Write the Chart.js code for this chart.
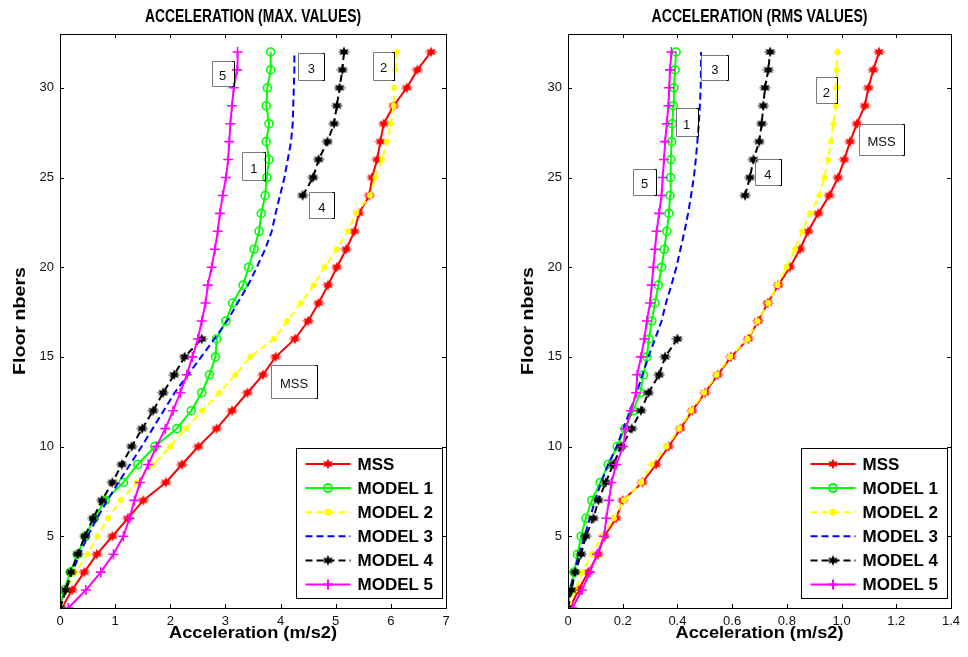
<!DOCTYPE html>
<html>
<head>
<meta charset="utf-8">
<title>Acceleration profiles</title>
<script src="https://cdn.jsdelivr.net/npm/chart.js@4/dist/chart.umd.min.js"></script>
<style>
  html, body { margin: 0; padding: 0; background: #fff; }
  #wrap { position: relative; width: 968px; height: 657px; overflow: hidden; }
  .pane { position: absolute; top: 0; height: 657px; }
  #paneMax { left: 0; width: 484px; }
  #paneRms { left: 508px; width: 460px; }
</style>
</head>
<body>
<div id="wrap">
  <div class="pane" id="paneMax"><canvas id="chartMax"></canvas></div>
  <div class="pane" id="paneRms"><canvas id="chartRms"></canvas></div>
</div>
<script>
// ---- data -------------------------------------------------------------
const floors = [1, 2, 3, 4, 5, 6, 7, 8, 9, 10, 11, 12, 13, 14, 15, 16,
                17, 18, 19, 20, 21, 22, 23, 24, 25, 26, 27, 28, 29, 30, 31, 32];
const floorTicks = [5, 10, 15, 20, 25, 30];
const seriesNames = ['MSS', 'MODEL 1', 'MODEL 2', 'MODEL 3', 'MODEL 4', 'MODEL 5'];

// peak acceleration per floor (m/s2)
const mssMax    = [0.03, 0.22, 0.44, 0.67, 0.95, 1.23, 1.51, 1.92, 2.21, 2.51, 2.84, 3.12, 3.40, 3.68, 3.91, 4.26,
                   4.50, 4.69, 4.86, 5.02, 5.19, 5.34, 5.42, 5.61, 5.66, 5.75, 5.81, 5.87, 6.05, 6.29, 6.48, 6.73];
const model1Max = [0.00, 0.07, 0.19, 0.32, 0.46, 0.62, 0.82, 1.15, 1.41, 1.72, 2.12, 2.38, 2.57, 2.71, 2.82, 2.84,
                   3.01, 3.13, 3.32, 3.42, 3.52, 3.61, 3.65, 3.72, 3.75, 3.79, 3.74, 3.79, 3.74, 3.76, 3.82, 3.82];
const model2Max = [0.02, 0.12, 0.28, 0.50, 0.68, 0.87, 1.10, 1.40, 1.69, 2.00, 2.28, 2.58, 2.89, 3.18, 3.45, 3.88,
                   4.12, 4.37, 4.60, 4.80, 5.02, 5.22, 5.37, 5.62, 5.72, 5.84, 5.93, 6.00, 6.05, 6.06, 6.08, 6.11];
const model3Max = [0.00, 0.11, 0.22, 0.36, 0.50, 0.67, 0.86, 1.06, 1.27, 1.48, 1.68, 1.88, 2.08, 2.32, 2.56, 2.80,
                   3.03, 3.22, 3.41, 3.57, 3.72, 3.84, 3.91, 3.99, 4.07, 4.13, 4.19, 4.22, 4.23, 4.24, 4.25, 4.25];
const model4Max = [0.00, 0.10, 0.20, 0.32, 0.45, 0.60, 0.76, 0.95, 1.12, 1.30, 1.49, 1.69, 1.87, 2.07, 2.26, 2.57,
                   null, null, null, null, null, null, null, 4.40, 4.59, 4.69, 4.85, 4.97, 5.02, 5.07, 5.12, 5.15];
const model5Max = [0.15, 0.47, 0.74, 0.97, 1.15, 1.26, 1.35, 1.45, 1.60, 1.75, 1.91, 2.05, 2.18, 2.30, 2.40, 2.50,
                   2.57, 2.64, 2.68, 2.75, 2.81, 2.86, 2.90, 2.95, 3.01, 3.05, 3.07, 3.09, 3.12, 3.15, 3.21, 3.22];

// RMS acceleration per floor (m/s2)
const mssRms    = [0.007, 0.038, 0.074, 0.110, 0.133, 0.176, 0.200, 0.272, 0.322, 0.368, 0.411, 0.454, 0.501, 0.547, 0.596, 0.659,
                   0.695, 0.730, 0.769, 0.811, 0.848, 0.878, 0.915, 0.955, 0.987, 1.010, 1.031, 1.056, 1.085, 1.098, 1.116, 1.137];
const model1Rms = [0.000, 0.007, 0.023, 0.035, 0.048, 0.065, 0.087, 0.118, 0.147, 0.180, 0.208, 0.238, 0.264, 0.276, 0.288, 0.296,
                   0.306, 0.318, 0.330, 0.342, 0.352, 0.361, 0.369, 0.373, 0.375, 0.376, 0.379, 0.381, 0.385, 0.387, 0.391, 0.395];
const model2Rms = [0.005, 0.026, 0.053, 0.087, 0.125, 0.168, 0.204, 0.268, 0.305, 0.360, 0.407, 0.450, 0.497, 0.543, 0.592, 0.657,
                   0.693, 0.732, 0.766, 0.799, 0.830, 0.856, 0.885, 0.919, 0.937, 0.951, 0.961, 0.970, 0.979, 0.981, 0.982, 0.985];
const model3Rms = [0.000, 0.007, 0.023, 0.040, 0.060, 0.080, 0.099, 0.121, 0.147, 0.178, 0.202, 0.227, 0.251, 0.272, 0.294, 0.318,
                   0.342, 0.358, 0.378, 0.396, 0.411, 0.426, 0.439, 0.450, 0.460, 0.467, 0.473, 0.478, 0.482, 0.485, 0.486, 0.486];
const model4Rms = [0.000, 0.013, 0.026, 0.048, 0.065, 0.093, 0.111, 0.138, 0.165, 0.195, 0.233, 0.267, 0.294, 0.333, 0.355, 0.400,
                   null, null, null, null, null, null, null, 0.647, 0.665, 0.678, 0.699, 0.708, 0.714, 0.720, 0.732, 0.739];
const model5Rms = [0.016, 0.051, 0.080, 0.106, 0.132, 0.140, 0.150, 0.159, 0.176, 0.202, 0.211, 0.231, 0.249, 0.253, 0.267, 0.279,
                   0.288, 0.300, 0.306, 0.312, 0.318, 0.324, 0.333, 0.342, 0.346, 0.351, 0.355, 0.361, 0.367, 0.370, 0.373, 0.378];

// ---- styling ----------------------------------------------------------
const FONT_TEXT = "'Liberation Sans', Arial, sans-serif";

function starMarker(color, size) {
  const c = document.createElement('canvas');
  c.width = size; c.height = size;
  const g = c.getContext('2d');
  const r = size / 2;
  g.fillStyle = color;
  g.strokeStyle = color;
  g.beginPath();
  for (let k = 0; k < 12; k++) {
    const ang = -Math.PI / 2 + k * Math.PI / 6;
    const rr = k % 2 === 0 ? r - 0.5 : r * 0.45;
    g.lineTo(r + rr * Math.cos(ang), r + rr * Math.sin(ang));
  }
  g.closePath();
  g.fill();
  g.lineWidth = 1;
  g.beginPath();
  g.moveTo(0.5, r); g.lineTo(size - 0.5, r);
  g.stroke();
  return c;
}

const redStar = starMarker('#ff0000', 12);
const blackStar = starMarker('#000000', 12);

const seriesStyle = [
  { color: '#ff0000', dash: [],     pointStyle: redStar,   radius: 6, fill: '#ff0000', pbw: 1 },
  { color: '#00ff00', dash: [],     pointStyle: 'circle',  radius: 4, fill: 'rgba(0,0,0,0)', pbw: 1.6 },
  { color: '#ffff00', dash: [7, 4], pointStyle: 'circle',  radius: 2.6, fill: '#ffff00', pbw: 1 },
  { color: '#0000ff', dash: [7, 4], pointStyle: 'circle',  radius: 0, fill: '#0000ff', pbw: 0 },
  { color: '#000000', dash: [7, 4], pointStyle: blackStar, radius: 6, fill: '#000000', pbw: 1 },
  { color: '#ff00ff', dash: [],     pointStyle: 'cross',   radius: 5, fill: '#ff00ff', pbw: 1.6 }
];

function makeDatasets(seriesList) {
  return seriesList.map((values, i) => {
    const st = seriesStyle[i];
    return {
      label: seriesNames[i],
      data: floors.map((f, k) => ({ x: values[k], y: f })),
      borderColor: st.color,
      backgroundColor: st.fill,
      borderWidth: 2,
      borderDash: st.dash,
      pointStyle: st.pointStyle,
      pointRadius: st.radius,
      pointBorderColor: st.color,
      pointBackgroundColor: st.fill,
      pointBorderWidth: st.pbw,
      pointHoverRadius: st.radius,
      spanGaps: false,
      tension: 0,
      fill: false,
      order: seriesList.length - i
    };
  });
}

// ---- in-plot decorations: frame, inward ticks, text boxes, legend ------
function drawFrame(chart) {
  const { ctx, chartArea: a, scales } = chart;
  ctx.save();
  ctx.strokeStyle = '#000';
  ctx.lineWidth = 1;
  ctx.setLineDash([]);
  ctx.strokeRect(Math.round(a.left) + 0.5, Math.round(a.top) + 0.5,
                 Math.round(a.right - a.left), Math.round(a.bottom - a.top));
  const tl = 4;
  ctx.beginPath();
  scales.x.ticks.forEach(t => {
    const px = Math.round(scales.x.getPixelForValue(t.value)) + 0.5;
    ctx.moveTo(px, a.bottom); ctx.lineTo(px, a.bottom - tl);
    ctx.moveTo(px, a.top); ctx.lineTo(px, a.top + tl);
  });
  scales.y.ticks.forEach(t => {
    const py = Math.round(scales.y.getPixelForValue(t.value)) + 0.5;
    ctx.moveTo(a.left, py); ctx.lineTo(a.left + tl, py);
    ctx.moveTo(a.right, py); ctx.lineTo(a.right - tl, py);
  });
  ctx.stroke();
  ctx.restore();
}

function drawNotes(chart, notes) {
  const { ctx, scales } = chart;
  ctx.save();
  ctx.setLineDash([]);
  notes.forEach(n => {
    const cx = scales.x.getPixelForValue(n.x);
    const cy = scales.y.getPixelForValue(n.y);
    const l = Math.round(cx - n.w / 2) + 0.5, t = Math.round(cy - n.h / 2) + 0.5;
    const r = l + n.w, b = t + n.h;
    ctx.lineWidth = 1;
    ctx.strokeStyle = '#7a7a7a';
    ctx.beginPath();
    ctx.moveTo(r, t); ctx.lineTo(l, t); ctx.lineTo(l, b); ctx.lineTo(r, b);
    ctx.stroke();
    ctx.strokeStyle = '#000';
    ctx.beginPath();
    ctx.moveTo(r - 2, t); ctx.lineTo(r, t); ctx.lineTo(r, b); ctx.lineTo(r - 2, b);
    ctx.stroke();
    ctx.fillStyle = '#111';
    ctx.font = '13px ' + FONT_TEXT;
    ctx.textAlign = 'center';
    ctx.textBaseline = 'middle';
    ctx.fillText(n.text, cx, cy + 3);
  });
  ctx.restore();
}

function drawLegend(chart) {
  const { ctx, chartArea: a } = chart;
  const w = 146, h = 150;
  const x0 = Math.round(a.right - 150) + 0.5;
  const y0 = Math.round(a.bottom - 10 - h) + 0.5;
  ctx.save();
  ctx.fillStyle = '#fff';
  ctx.fillRect(x0, y0, w, h);
  ctx.strokeStyle = '#000';
  ctx.lineWidth = 1;
  ctx.setLineDash([]);
  ctx.strokeRect(x0, y0, w, h);
  chart.data.datasets.forEach((ds, i) => {
    const st = seriesStyle[i];
    const y = y0 + 15.5 + i * 24.1;
    ctx.save();
    ctx.strokeStyle = st.color;
    ctx.lineWidth = 2;
    ctx.setLineDash(st.dash);
    ctx.beginPath();
    ctx.moveTo(x0 + 9, y); ctx.lineTo(x0 + 54, y);
    ctx.stroke();
    ctx.setLineDash([]);
    if (st.radius > 0) {
      ctx.strokeStyle = st.color;
      ctx.fillStyle = st.fill;
      Chart.helpers.drawPoint(ctx, {
        pointStyle: st.pointStyle, radius: st.radius, rotation: 0, borderWidth: st.pbw
      }, x0 + 31.5, y);
    }
    ctx.restore();
    ctx.fillStyle = '#000';
    ctx.font = 'bold 17px ' + FONT_TEXT;
    ctx.textAlign = 'left';
    ctx.textBaseline = 'middle';
    ctx.fillText(ds.label, x0 + 61, y + 1);
  });
  ctx.restore();
}

// bold headings set in a narrow face: the text is squeezed to its set width
function narrowText(ctx, text, x, y, width, size, rotate) {
  ctx.save();
  ctx.font = 'bold ' + size + 'px ' + FONT_TEXT;
  ctx.fillStyle = '#000';
  ctx.textAlign = 'center';
  ctx.textBaseline = 'middle';
  const natural = ctx.measureText(text).width;
  ctx.translate(x, y);
  if (rotate) ctx.rotate(-Math.PI / 2);
  ctx.scale(width / natural, 1);
  ctx.fillText(text, 0, 0);
  ctx.restore();
}

function decorations(opts) {
  return {
    id: 'decorations',
    afterDatasetsDraw(chart) {
      drawNotes(chart, opts.notes);
      drawFrame(chart);
      drawLegend(chart);
    },
    afterDraw(chart) {
      const a = chart.chartArea;
      const cx = (a.left + a.right) / 2;
      narrowText(chart.ctx, opts.title, cx, 17.5, 216, 18, false);
      narrowText(chart.ctx, 'Acceleration (m/s2)', cx, 633, 168, 17, false);
      narrowText(chart.ctx, 'Floor nbers', 20.5, (a.top + a.bottom) / 2, 108, 17, true);
    }
  };
}

function buildChart(canvasId, opts) {
  return new Chart(document.getElementById(canvasId), {
    type: 'line',
    data: { datasets: makeDatasets(opts.series) },
    options: {
      indexAxis: 'y',
      responsive: true,
      maintainAspectRatio: false,
      animation: false,
      devicePixelRatio: 1,
      layout: { padding: { left: 0, right: opts.padRight, top: 34, bottom: 0 } },
      plugins: {
        legend: { display: false },
        tooltip: { enabled: false },
        title: { display: false }
      },
      scales: {
        x: {
          type: 'linear',
          position: 'bottom',
          min: 0,
          max: opts.xMax,
          ticks: { stepSize: opts.xStep, color: '#111', font: { family: FONT_TEXT, size: 13 }, padding: 6, maxRotation: 0 },
          grid: { display: false, drawTicks: false },
          border: { display: false },
          afterFit(s) { s.height = 49; }
        },
        y: {
          type: 'linear',
          position: 'left',
          min: 1,
          max: 33,
          afterBuildTicks(s) { s.ticks = floorTicks.map(v => ({ value: v })); },
          ticks: { color: '#111', font: { family: FONT_TEXT, size: 13 }, padding: 6 },
          grid: { display: false, drawTicks: false },
          border: { display: false },
          afterFit(s) { s.width = 60; }
        }
      }
    },
    plugins: [decorations(opts)]
  });
}

buildChart('chartMax', {
  title: 'ACCELERATION (MAX. VALUES)',
  series: [mssMax, model1Max, model2Max, model3Max, model4Max, model5Max],
  xMax: 7, xStep: 1, padRight: 38,
  notes: [
    { text: '5',   x: 2.95,  y: 30.82, w: 22, h: 25 },
    { text: '1',   x: 3.515, y: 25.64, w: 23, h: 28 },
    { text: '3',   x: 4.56,  y: 31.18, w: 26, h: 27 },
    { text: '4',   x: 4.75,  y: 23.46, w: 25, h: 26 },
    { text: '2',   x: 5.87,  y: 31.23, w: 21, h: 28 },
    { text: 'MSS', x: 4.245, y: 13.64, w: 46, h: 33 }
  ]
});

buildChart('chartRms', {
  title: 'ACCELERATION (RMS VALUES)',
  series: [mssRms, model1Rms, model2Rms, model3Rms, model4Rms, model5Rms],
  xMax: 1.4, xStep: 0.2, padRight: 17,
  notes: [
    { text: '3',   x: 0.537, y: 31.14, w: 27, h: 25 },
    { text: '1',   x: 0.434, y: 28.08, w: 22, h: 28 },
    { text: '2',   x: 0.944, y: 29.86, w: 21, h: 26 },
    { text: 'MSS', x: 1.146, y: 27.12, w: 45, h: 31 },
    { text: '4',   x: 0.731, y: 25.29, w: 26, h: 26 },
    { text: '5',   x: 0.280, y: 24.77, w: 23, h: 26 }
  ]
});
</script>
</body>
</html>
